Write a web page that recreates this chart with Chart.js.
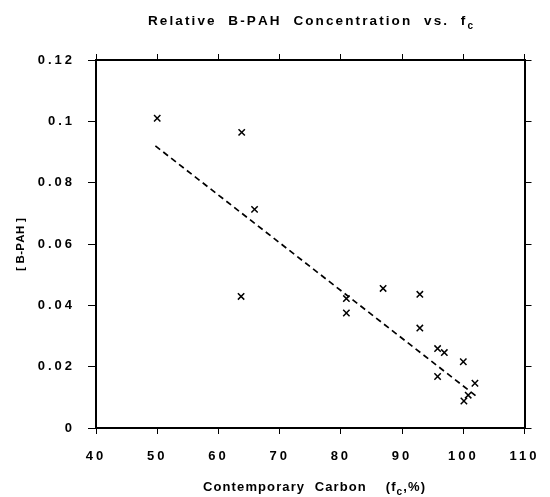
<!DOCTYPE html>
<html>
<head>
<meta charset="utf-8">
<script src="https://cdn.jsdelivr.net/npm/chart.js@4"></script>
<style>
  html, body { margin: 0; padding: 0; background: #fff; }
  #wrap { width: 550px; height: 497px; }
</style>
</head>
<body>
<div id="wrap"><canvas id="bpah-chart"></canvas></div>
<script>
// values
const fcValues = [50.0, 63.8, 65.9, 63.7, 80.9, 80.9, 86.9, 92.9, 92.9, 95.8, 96.9, 95.8, 100.0, 101.9, 100.8, 100.1];
const bpahValues = [0.101, 0.0964, 0.0713, 0.0429, 0.0422, 0.0375, 0.0455, 0.0436, 0.0326, 0.0259, 0.0246, 0.0168, 0.0216, 0.0146, 0.0107, 0.0088];

// dashed regression line, end points
const trendFc = [49.7, 102.3];
const trendBpah = [0.092, 0.0101];

const xTicks = [40, 50, 60, 70, 80, 90, 100, 110];
const yTicks = [0, 0.02, 0.04, 0.06, 0.08, 0.1, 0.12];
const yTickLabels = ["0", "0.02", "0.04", "0.06", "0.08", "0.1", "0.12"];

const FONT = "'Liberation Sans', Arial, sans-serif";

function setTicks(list) {
  return (scale) => { scale.ticks = list.map(v => ({ value: v })); };
}

// draws text pieces (some as subscript) stretched to a given width
function drawRich(ctx, parts, x, y, width, size) {
  const subSize = Math.round(size * 0.75);
  let natural = 0, chars = 0;
  ctx.letterSpacing = "0px";
  parts.forEach(p => {
    ctx.font = "bold " + (p.sub ? subSize : size) + "px " + FONT;
    natural += ctx.measureText(p.text).width;
    chars += p.text.length;
  });
  const gap = (width - natural) / (chars - 1);
  let cx = x;
  parts.forEach(p => {
    ctx.font = "bold " + (p.sub ? subSize : size) + "px " + FONT;
    for (const ch of p.text) {
      ctx.fillText(ch, cx, p.sub ? y + 4 : y);
      cx += ctx.measureText(ch).width + gap;
    }
  });
}

const textPlugin = {
  id: "textPlugin",
  beforeDraw(chart) {
    chart.ctx.letterSpacing = "3px";
  },
  beforeDatasetsDraw(chart) {
    chart.ctx.letterSpacing = "0px";
  },
  afterDraw(chart) {
    const ctx = chart.ctx;
    ctx.save();
    ctx.fillStyle = "#000";
    ctx.textAlign = "left";
    ctx.textBaseline = "alphabetic";

    drawRich(ctx, [{ text: "Relative  B-PAH  Concentration  vs.  f" }, { text: "c", sub: true }], 148, 25, 324, 13.5);
    drawRich(ctx, [{ text: "Contemporary  Carbon    (f" }, { text: "c", sub: true }, { text: ",%)" }], 203, 491, 222, 13);

    ctx.translate(24, 271);
    ctx.rotate(-Math.PI / 2);
    drawRich(ctx, [{ text: "[ B-PAH ]" }], 0, 0, 52, 11.5);
    ctx.restore();
  }
};

const axisLine = { display: true, color: "#000", width: 2 };
const tickGrid = (len) => ({ drawOnChartArea: false, drawTicks: true, tickLength: len, color: "#000", lineWidth: 1 });

new Chart(document.getElementById("bpah-chart"), {
  type: "scatter",
  data: {
    datasets: [
      {
        label: "B-PAH",
        data: fcValues.map((x, i) => ({ x: x, y: bpahValues[i] })),
        pointStyle: "crossRot",
        pointRadius: 4.5,
        borderColor: "#000",
        backgroundColor: "#000",
        borderWidth: 1.5,
        showLine: false
      },
      {
        label: "Fit",
        type: "line",
        data: trendFc.map((x, i) => ({ x: x, y: trendBpah[i] })),
        borderColor: "#000",
        borderWidth: 1.7,
        borderDash: [6, 4],
        pointRadius: 0,
        fill: false
      }
    ]
  },
  options: {
    responsive: true,
    maintainAspectRatio: false,
    animation: false,
    layout: { padding: 0 },
    plugins: {
      legend: { display: false },
      tooltip: { enabled: false },
      title: { display: false }
    },
    scales: {
      x: {
        type: "linear", position: "bottom", min: 40, max: 110,
        afterBuildTicks: setTicks(xTicks),
        afterFit: (s) => { s.height = 69; },
        grid: tickGrid(6),
        border: axisLine,
        ticks: {
          color: "#000", padding: 15, maxRotation: 0, autoSkip: false,
          font: { family: FONT, size: 13, weight: "bold" },
          callback: (v) => String(v)
        }
      },
      xTop: {
        type: "linear", position: "top", min: 40, max: 110,
        afterBuildTicks: setTicks(xTicks),
        afterFit: (s) => { s.height = 60; },
        grid: tickGrid(6),
        border: axisLine,
        ticks: { display: false }
      },
      y: {
        type: "linear", position: "left", min: 0, max: 0.12,
        afterBuildTicks: setTicks(yTicks),
        afterFit: (s) => { s.width = 96; },
        grid: tickGrid(8),
        border: axisLine,
        ticks: {
          color: "#000", padding: 13, autoSkip: false,
          font: { family: FONT, size: 13, weight: "bold" },
          callback: (v, i) => yTickLabels[i]
        }
      },
      yRight: {
        type: "linear", position: "right", min: 0, max: 0.12,
        afterBuildTicks: setTicks(yTicks),
        afterFit: (s) => { s.width = 22; },
        grid: tickGrid(7),
        border: axisLine,
        ticks: { display: false }
      }
    }
  },
  plugins: [textPlugin]
});
</script>
</body>
</html>
